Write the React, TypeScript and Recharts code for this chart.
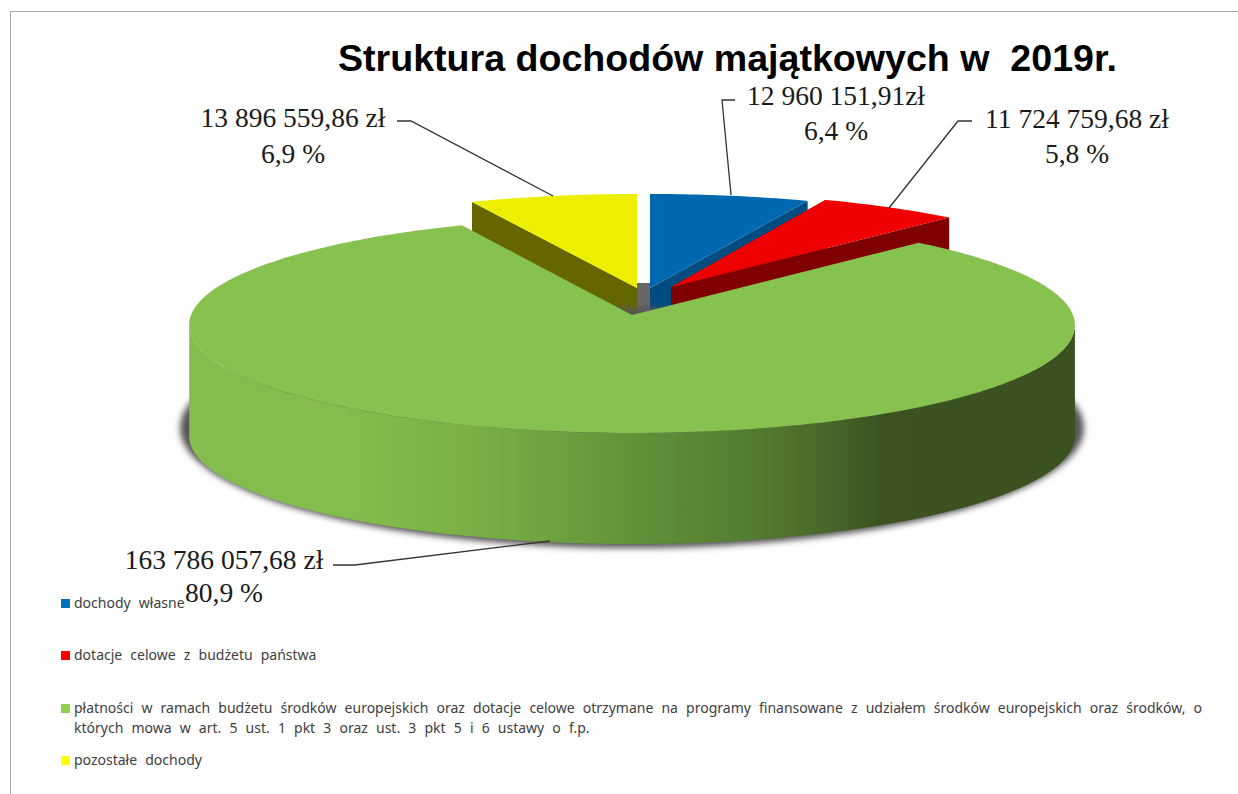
import React from 'react';
import { PieChart, Pie, Legend } from 'recharts';

const categories = [
  'dochody własne',
  'dotacje celowe z budżetu państwa',
  'płatności w ramach budżetu środków europejskich oraz dotacje celowe otrzymane na programy finansowane z udziałem środków europejskich oraz środków, o',
  'pozostałe dochody',
];
const amounts = [12960151.91, 11724759.68, 163786057.68, 13896559.86];
const amountLabels = ['12 960 151,91zł', '11 724 759,68 zł', '163 786 057,68 zł', '13 896 559,86 zł'];
const percentLabels = ['6,4 %', '5,8 %', '80,9 %', '6,9 %'];
const legendSecondLine = 'których mowa w art. 5 ust. 1 pkt 3 oraz ust. 3 pkt 5 i 6 ustawy o f.p.';

const topColors = ['#0068b0', '#ee0000', '#87c14f', '#eeee00'];
const wallColors = ['#004c80', '#7f0000', '#3b5120', '#666600'];
const legendColors = ['#0070c0', '#ff0000', '#92d050', '#ffff00'];

// yellow is first so that the green slice gets painted over the others
const drawOrder = [3, 0, 1, 2];
const total = amounts.reduce((a, b) => a + b, 0);
const startAngle = 90 + (amounts[3] / total) * 360;

const chartData = drawOrder.map((i) => ({
  name: categories[i],
  value: amounts[i],
  fill: topColors[i],
  wall: wallColors[i],
  idx: i,
}));

// fake 3D: perspective of the disc and how far each slice is pulled out
const PERSPECTIVE = 0.0925;
const X_STRETCH = 441 / 107;
const DEPTH = 111;
const explode = [
  { dx: 18, dy: -27, sx: 0.99, sy: 0.96 },
  { dx: 39, dy: -28, sx: 0.97, sy: 0.96 },
  { dx: 0, dy: 0, sx: 1, sy: 1 },
  { dx: 5, dy: -27, sx: 0.97, sy: 0.96 },
];

const labelBoxes = [
  { x: 836, y1: 105, y2: 140, line: '735,100 722,100 731,195' },
  { x: 1077, y1: 128, y2: 163, line: '972,121 958,121 889,208' },
  { x: 224, y1: 569, y2: 602, line: '333,565 355,565 550,541' },
  { x: 293, y1: 127, y2: 163, line: '397,121 411,121 553,196' },
];

const legendRows = [
  { top: 595, square: 603 },
  { top: 647, square: 655 },
  { top: 700, square: 708 },
  { top: 752, square: 760 },
];

const SliceShape = (props: any) => {
  const { cx, cy, outerRadius, startAngle: a0, endAngle: a1, fill, payload } = props;
  const idx = payload.idx as number;
  const g = explode[idx];
  const pt = (deg: number): [number, number] => {
    const rad = (deg * Math.PI) / 180;
    const w = 1 + PERSPECTIVE * Math.sin(rad);
    return [
      cx + g.dx + (outerRadius * X_STRETCH * g.sx * Math.cos(rad)) / w,
      cy + g.dy - (outerRadius * g.sy * Math.sin(rad)) / w,
    ];
  };
  const apex: [number, number] = [cx + g.dx, cy + g.dy];
  const arc: [number, number][] = [];
  const n = Math.max(8, Math.ceil(Math.abs(a1 - a0)));
  for (let i = 0; i <= n; i++) arc.push(pt(a0 + ((a1 - a0) * i) / n));
  const toPath = (pts: [number, number][]) => 'M' + pts.map((p) => p[0].toFixed(1) + ' ' + p[1].toFixed(1)).join('L') + 'Z';
  const drop = (p: [number, number]): [number, number] => [p[0], p[1] + DEPTH];

  if (idx === 2) {
    // front rim only exists on the big slice
    const front: [number, number][] = [];
    for (let d = -5.3; d >= -174.7; d -= 2) front.push(pt(d));
    const rim = [...front, ...front.slice().reverse().map(drop)];
    return (
      <g>
        <ellipse cx={632} cy={428} rx={452} ry={120} fill="#555" filter="url(#pieShadow)" />
        <path d={toPath(rim)} fill="url(#rimGradient)" />
        <path d={toPath([apex, ...arc])} fill={fill} />
      </g>
    );
  }
  const first = arc[0];
  const last = arc[arc.length - 1];
  return (
    <g>
      <path d={toPath([apex, first, drop(first), drop(apex)])} fill={payload.wall} />
      <path d={toPath([apex, last, drop(last), drop(apex)])} fill={payload.wall} />
      <path d={toPath([apex, ...arc])} fill={fill} />
    </g>
  );
};

const renderLabel = (props: any) => {
  const i = props.payload?.idx ?? props.idx;
  const box = labelBoxes[i];
  const textStyle = { fontFamily: '"Liberation Serif", serif', fontSize: 27.5, fill: '#1a1a1a' };
  return (
    <g key={i}>
      <polyline points={box.line} fill="none" stroke="#333" strokeWidth={1.3} />
      <text x={box.x} y={box.y1} textAnchor="middle" style={textStyle}>{amountLabels[i]}</text>
      <text x={box.x} y={box.y2} textAnchor="middle" style={textStyle}>{percentLabels[i]}</text>
    </g>
  );
};

const renderLegend = () => {
  const textStyle: React.CSSProperties = {
    position: 'absolute',
    left: 74,
    fontFamily: '"Noto Sans", sans-serif',
    fontSize: 14,
    lineHeight: '16px',
    color: '#404040',
    whiteSpace: 'nowrap',
    wordSpacing: 4.5,
  };
  return (
    <div>
      {categories.map((name, i) => (
        <React.Fragment key={name}>
          <div style={{ position: 'absolute', left: 61, top: legendRows[i].square - 4, width: 9, height: 9, background: legendColors[i] }} />
          {i === 2 ? (
            <div style={{ ...textStyle, top: legendRows[i].top, width: 1128, whiteSpace: 'normal', textAlign: 'justify', textAlignLast: 'justify', wordSpacing: 0 }}>{name}</div>
          ) : (
            <div style={{ ...textStyle, top: legendRows[i].top }}>{name}</div>
          )}
        </React.Fragment>
      ))}
      <div style={{ ...textStyle, top: 720 }}>{legendSecondLine}</div>
    </div>
  );
};

export default function App() {
  return (
    <div style={{ position: 'absolute', left: 0, top: 0, width: 1238, height: 794, background: '#fff', overflow: 'hidden' }}>
      <div style={{ position: 'absolute', left: 10, top: 11, right: 0, bottom: 0, borderLeft: '1px solid #a6a6a6', borderTop: '1px solid #a6a6a6' }} />
      <PieChart width={1238} height={794} margin={{ top: 0, right: 0, bottom: 0, left: 0 }} style={{ position: 'absolute', left: 0, top: 0 }}>
        <defs>
          <linearGradient id="rimGradient" gradientUnits="userSpaceOnUse" x1={189} y1={0} x2={1075} y2={0}>
            <stop offset="0" stopColor="#84bd4d" />
            <stop offset="0.18" stopColor="#84bd4d" />
            <stop offset="0.33" stopColor="#78ae45" />
            <stop offset="0.4" stopColor="#70a340" />
            <stop offset="0.517" stopColor="#618f38" />
            <stop offset="0.63" stopColor="#557d31" />
            <stop offset="0.704" stopColor="#4c6c2b" />
            <stop offset="0.78" stopColor="#3c5321" />
            <stop offset="1" stopColor="#3b5120" />
          </linearGradient>
          <filter id="pieShadow" x="-5%" y="-10%" width="110%" height="120%">
            <feGaussianBlur stdDeviation="3" />
          </filter>
        </defs>
        <text x={338} y={71} style={{ fontFamily: '"Liberation Sans", sans-serif', fontWeight: 700, fontSize: 37.6, fill: '#000', whiteSpace: 'pre' }}>
          {'Struktura dochodów majątkowych w  2019r.'}
        </text>
        <rect x={637} y={283} width={13} height={32} fill="#666" />
        <Pie
          data={chartData}
          dataKey="value"
          nameKey="name"
          cx={632}
          cy={315}
          outerRadius={107}
          startAngle={startAngle}
          endAngle={startAngle - 360}
          stroke="none"
          shape={SliceShape}
          label={renderLabel}
          labelLine={false}
          isAnimationActive={false}
        />
        <Legend content={renderLegend} wrapperStyle={{ left: 0, top: 0, width: 1238, height: 794 }} />
      </PieChart>
    </div>
  );
}
